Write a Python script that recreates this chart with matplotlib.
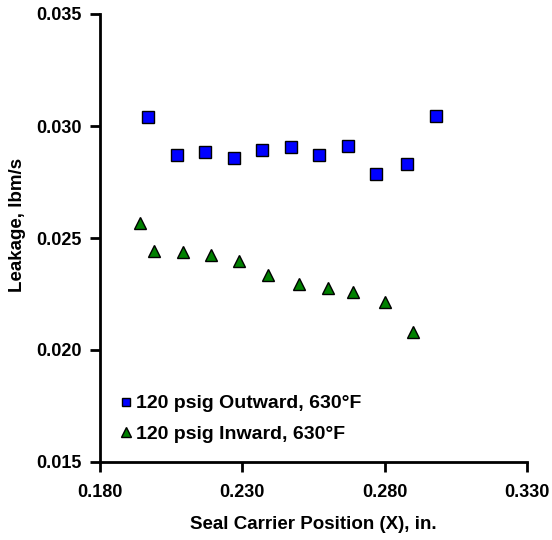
import matplotlib
matplotlib.use('Agg')
import matplotlib.pyplot as plt

# Seal carrier position (in.) and leakage (lbm/s)
x_outward = [0.197, 0.207, 0.217, 0.227, 0.237, 0.247, 0.257, 0.267, 0.277, 0.288, 0.298]
y_outward = [0.0304, 0.02871, 0.02885, 0.02859, 0.02893, 0.02905, 0.02871, 0.02912, 0.02784, 0.02830, 0.03046]

x_inward = [0.194, 0.199, 0.209, 0.219, 0.229, 0.239, 0.250, 0.260, 0.269, 0.280, 0.290]
y_inward = [0.02566, 0.02442, 0.02436, 0.02423, 0.02396, 0.02335, 0.02295, 0.02275, 0.02260, 0.02214, 0.02080]

x_ticks = [0.180, 0.230, 0.280, 0.330]
y_ticks = [0.015, 0.020, 0.025, 0.030, 0.035]

plt.rcParams['font.family'] = ['Liberation Sans', 'DejaVu Sans']
plt.rcParams['font.weight'] = 'bold'

fig = plt.figure(figsize=(5.52, 5.40), dpi=100)
ax = fig.add_axes([100 / 552, 78 / 540, 427 / 552, 448 / 540])

ax.plot(x_outward, y_outward, 's', color='#0000ff', mec='black', mew=1.0, ms=8,
        label='120 psig Outward, 630°F')
ax.plot(x_inward, y_inward, '^', color='#008000', mec='black', mew=1.0, ms=9,
        label='120 psig Inward, 630°F')

ax.set_xlim(0.180, 0.330)
ax.set_ylim(0.015, 0.035)
ax.set_xticks(x_ticks)
ax.set_yticks(y_ticks)
ax.set_xticklabels([f'{v:.3f}' for v in x_ticks])
ax.set_yticklabels([f'{v:.3f}' for v in y_ticks])
ax.tick_params(labelsize=13, width=2, length=7, direction='out', pad=6)
ax.tick_params(axis='x', pad=9)

for s in ['top', 'right']:
    ax.spines[s].set_visible(False)
for s in ['left', 'bottom']:
    ax.spines[s].set_linewidth(2)

ax.set_xlabel('Seal Carrier Position (X), in.', fontsize=13.5, fontweight='bold')
ax.set_ylabel('Leakage, lbm/s', fontsize=13.5, fontweight='bold')
ax.xaxis.set_label_coords(0.5, -0.12)
ax.yaxis.set_label_coords(-0.173, 0.53)

leg = ax.legend(loc='lower left', bbox_to_anchor=(0.01, 0.017), frameon=False, fontsize=14,
                handletextpad=0.05, handlelength=1.0, labelspacing=0.65, borderaxespad=0.2,
                markerscale=0.8)

fig.savefig('out.png', dpi=100)
